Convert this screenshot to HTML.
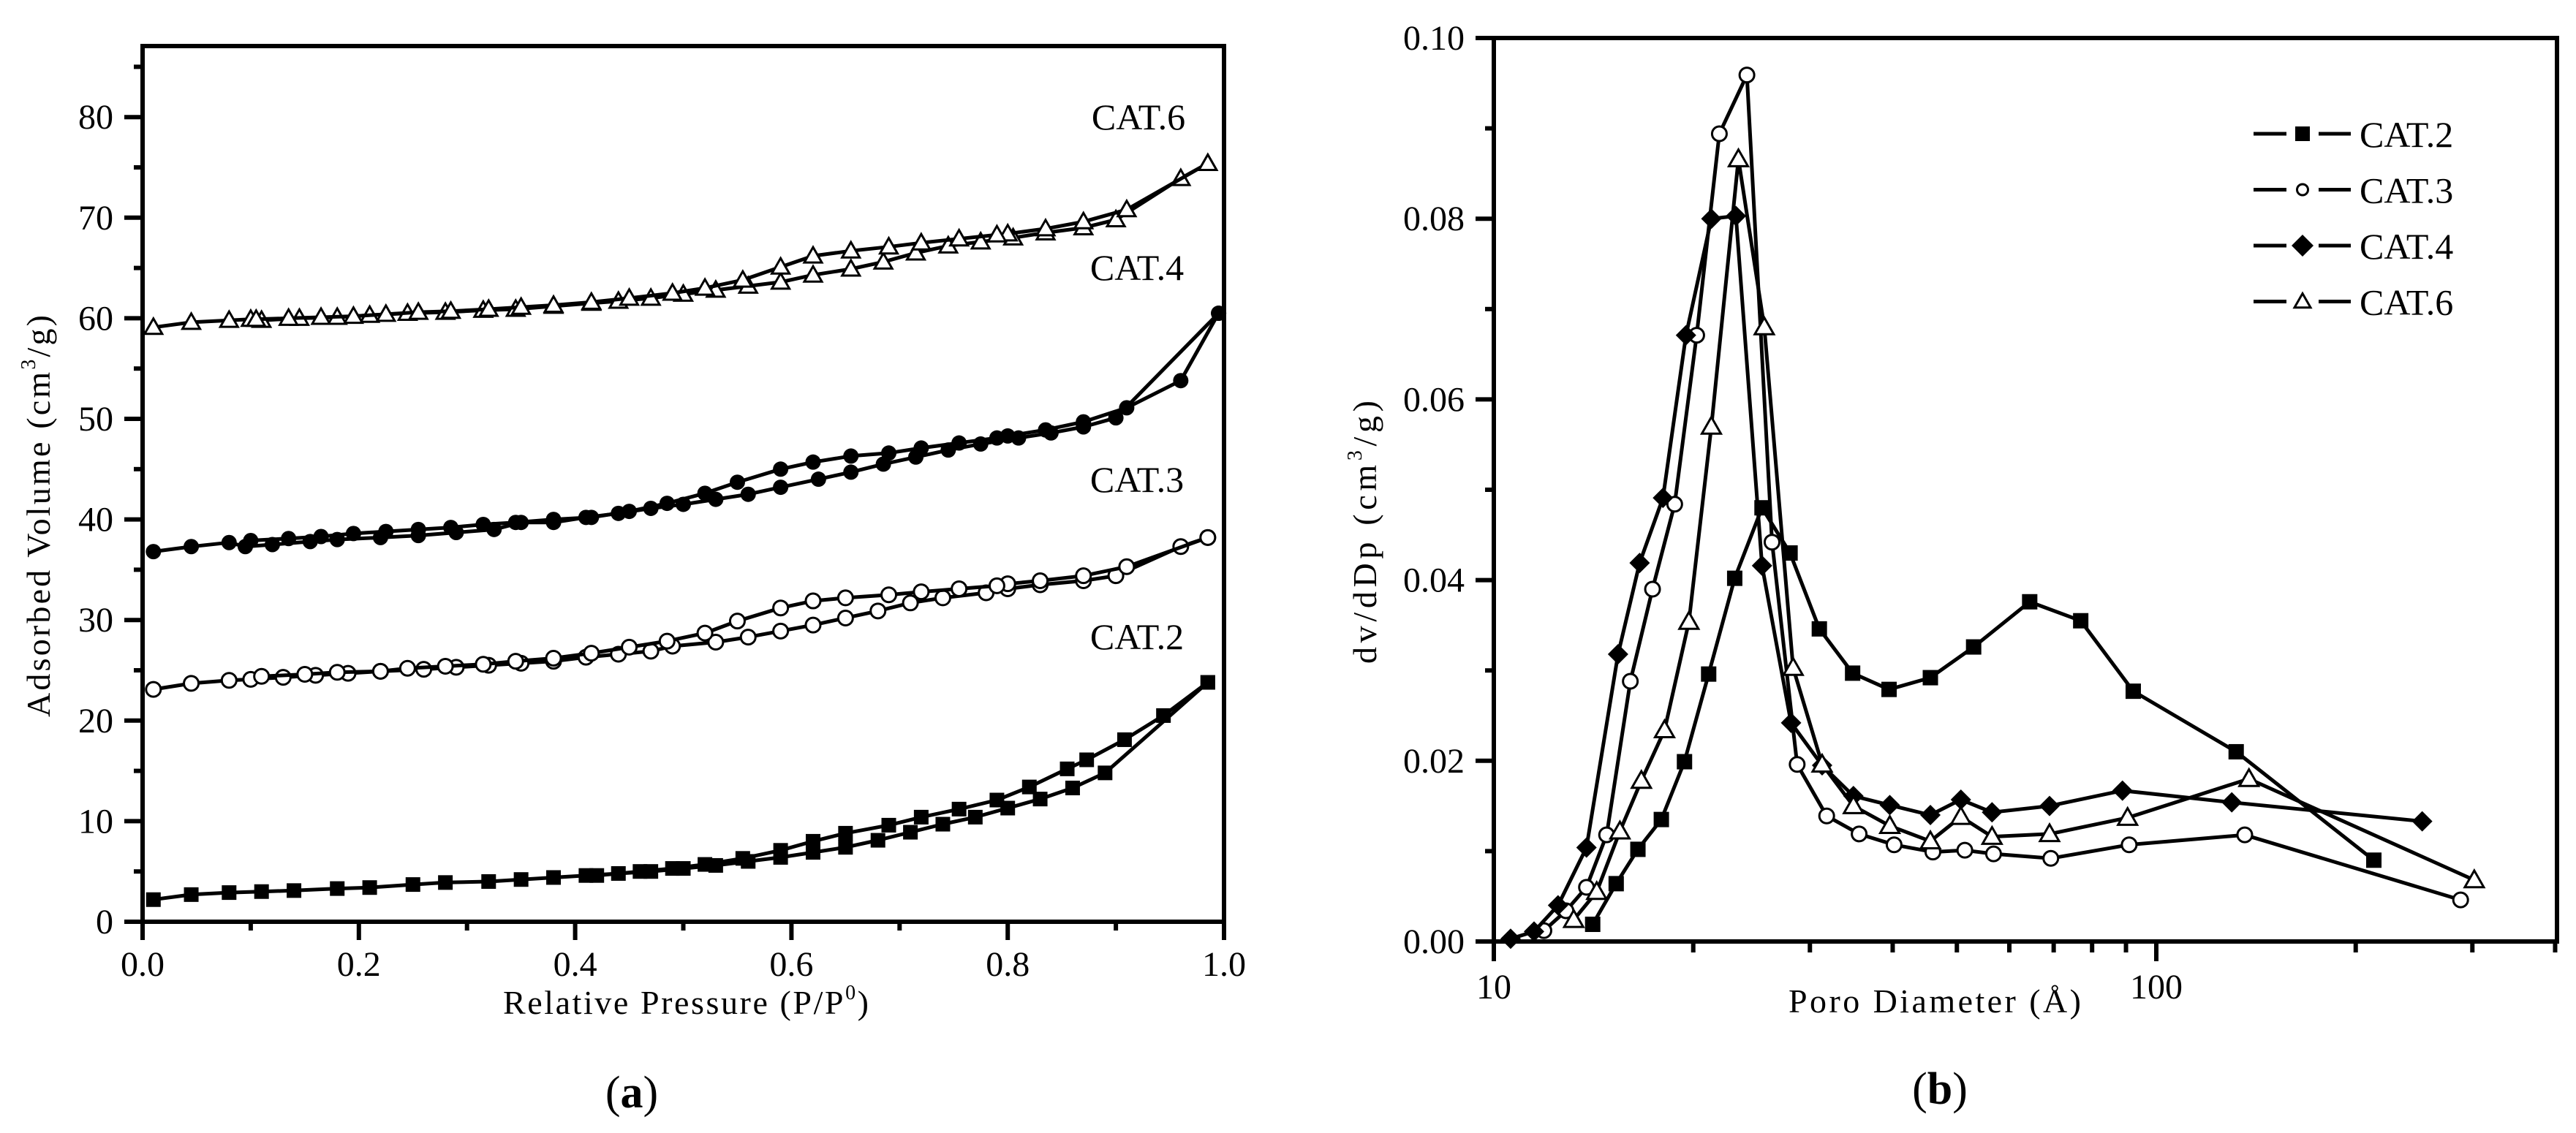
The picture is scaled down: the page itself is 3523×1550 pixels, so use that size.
<!DOCTYPE html>
<html><head><meta charset="utf-8">
<style>
html,body{margin:0;padding:0;background:#fff;}
svg{display:block;font-family:"Liberation Serif",serif;}
</style></head>
<body>
<svg id="fig" width="3523" height="1550" viewBox="0 0 3523 1550" xmlns="http://www.w3.org/2000/svg">
<g id="pa"></g>
<g id="pb"></g>
</svg>
<script>
// ---------- Panel (a) data ----------
const a2AdsX=[0.01,0.045,0.08,0.11,0.14,0.18,0.21,0.25,0.28,0.32,0.35,0.38,0.41,0.44,0.47,0.5,0.53,0.56,0.59,0.62,0.65,0.68,0.71,0.74,0.77,0.80,0.83,0.86,0.89,0.985];
const a2AdsY=[2.2,2.7,2.9,3.0,3.1,3.3,3.4,3.7,3.9,4.0,4.2,4.4,4.6,4.8,5.0,5.3,5.6,6.0,6.4,6.9,7.4,8.1,8.9,9.7,10.4,11.3,12.2,13.3,14.8,23.8];
const a2DesX=[0.985,0.944,0.908,0.873,0.855,0.82,0.79,0.755,0.72,0.69,0.65,0.62,0.59,0.555,0.52,0.49,0.46,0.42];
const a2DesY=[23.8,20.5,18.1,16.1,15.2,13.4,12.1,11.2,10.4,9.6,8.8,8.0,7.1,6.3,5.7,5.3,5.0,4.6];
const a3AdsX=[0.01,0.045,0.08,0.1,0.13,0.16,0.19,0.22,0.26,0.29,0.32,0.35,0.38,0.41,0.44,0.47,0.49,0.53,0.56,0.59,0.62,0.65,0.68,0.71,0.74,0.78,0.80,0.83,0.87,0.90,0.96,0.985];
const a3AdsY=[23.1,23.7,24.0,24.1,24.3,24.5,24.7,24.9,25.1,25.3,25.5,25.7,25.9,26.3,26.6,26.9,27.4,27.8,28.3,28.9,29.5,30.2,30.9,31.7,32.2,32.7,33.1,33.5,33.9,34.4,37.3,38.2];
const a3DesX=[0.985,0.91,0.87,0.83,0.80,0.79,0.755,0.72,0.69,0.65,0.62,0.59,0.55,0.52,0.485,0.45,0.415,0.38,0.345,0.315,0.28,0.245,0.22,0.18,0.15,0.11];
const a3DesY=[38.2,35.3,34.4,33.9,33.6,33.4,33.1,32.8,32.5,32.2,31.9,31.2,29.9,28.7,27.9,27.3,26.7,26.2,25.9,25.6,25.4,25.2,24.9,24.8,24.6,24.4];
const a4AdsX=[0.01,0.045,0.08,0.095,0.12,0.155,0.18,0.22,0.255,0.29,0.325,0.35,0.38,0.41,0.44,0.47,0.5,0.53,0.56,0.59,0.625,0.655,0.685,0.715,0.745,0.775,0.81,0.84,0.87,0.9,0.995];
const a4AdsY=[36.8,37.3,37.7,37.3,37.5,37.8,38.0,38.2,38.4,38.7,39.0,39.7,39.7,40.2,40.6,41.1,41.5,42.0,42.5,43.2,44.0,44.7,45.5,46.2,46.9,47.5,48.1,48.6,49.2,50.1,60.5];
const a4DesX=[0.995,0.96,0.91,0.87,0.835,0.80,0.79,0.755,0.72,0.69,0.655,0.62,0.59,0.55,0.52,0.485,0.45,0.415,0.38,0.345,0.315,0.285,0.255,0.225,0.195,0.165,0.135,0.1];
const a4DesY=[60.5,53.8,51.1,49.7,48.9,48.3,48.1,47.6,47.1,46.6,46.3,45.7,45.0,43.7,42.6,41.6,40.8,40.2,40.0,39.7,39.5,39.2,39.0,38.8,38.6,38.3,38.1,37.9];
const a6AdsX=[0.01,0.045,0.08,0.1,0.11,0.145,0.18,0.21,0.245,0.28,0.315,0.345,0.38,0.415,0.44,0.47,0.5,0.53,0.56,0.59,0.62,0.655,0.685,0.715,0.745,0.775,0.805,0.835,0.87,0.9,0.96,0.985];
const a6AdsY=[59.1,59.6,59.8,59.9,59.8,60.0,60.1,60.3,60.5,60.6,60.8,60.9,61.2,61.5,61.7,62.0,62.4,62.8,63.2,63.6,64.3,64.9,65.6,66.5,67.2,67.6,68.0,68.5,69.0,69.8,73.9,75.4];
const a6DesX=[0.985,0.91,0.87,0.835,0.80,0.79,0.755,0.72,0.69,0.655,0.62,0.59,0.555,0.52,0.49,0.45,0.415,0.38,0.35,0.32,0.285,0.255,0.225,0.195,0.165,0.135,0.105];
const a6DesY=[75.4,70.8,69.6,68.9,68.4,68.3,67.9,67.5,67.1,66.7,66.2,65.1,63.8,63.0,62.5,62.0,61.6,61.3,61.1,60.9,60.7,60.6,60.4,60.2,60.1,60.0,59.9];
const aXTicks=[0,0.2,0.4,0.6,0.8,1.0];
const aXTickLabels=["0.0","0.2","0.4","0.6","0.8","1.0"];
const aYTicks=[0,10,20,30,40,50,60,70,80];
const aYTickLabels=["0","10","20","30","40","50","60","70","80"];

// ---------- Panel (b) data ----------
const b2X=[14.1,15.3,16.5,17.9,19.4,21.1,23.1,25.4,28.0,31.0,34.8,39.5,45.6,53.0,64.4,76.9,92.3,132,213];
const b2Y=[0.0019,0.0064,0.0102,0.0135,0.0199,0.0296,0.0402,0.048,0.043,0.0346,0.0297,0.0279,0.0292,0.0326,0.0376,0.0355,0.0277,0.021,0.0090];
const b3X=[11.9,12.85,13.8,14.8,16.07,17.36,18.75,20.24,21.9,24.1,26.3,28.7,31.8,35.6,40.2,46.0,51.4,56.8,69.3,91.0,136,288];
const b3Y=[0.0012,0.0034,0.006,0.0118,0.0288,0.039,0.0484,0.0671,0.0894,0.0959,0.0442,0.0196,0.0139,0.0119,0.0107,0.0099,0.0101,0.0097,0.0092,0.0107,0.0118,0.0046];
const b4X=[10.6,11.5,12.5,13.8,15.4,16.6,18.0,19.5,21.3,23.2,25.4,28.1,31.3,34.9,39.6,45.6,50.7,56.5,69.0,88.9,130,252];
const b4Y=[0.0003,0.0011,0.004,0.0104,0.0318,0.0419,0.0491,0.0671,0.080,0.0803,0.0416,0.0242,0.0195,0.0161,0.0151,0.014,0.0157,0.0143,0.0150,0.0167,0.0154,0.0133];
const b6X=[13.2,14.3,15.5,16.7,18.1,19.7,21.3,23.4,25.6,28.3,31.3,34.9,39.6,45.6,50.7,56.5,69.0,90.5,138,302];
const b6Y=[0.0024,0.0055,0.0122,0.0178,0.0234,0.0354,0.0570,0.0866,0.0680,0.0303,0.0196,0.0150,0.0128,0.0111,0.0138,0.0116,0.0119,0.0137,0.0180,0.0068];
const bYTicks=[0,0.02,0.04,0.06,0.08,0.10];
const bYTickLabels=["0.00","0.02","0.04","0.06","0.08","0.10"];
const bXMajor=[10,100];
const bXMajorLabels=["10","100"];
const bXMinor=[20,30,40,50,60,70,80,90,200,300,400];
const legendNames=["CAT.2","CAT.3","CAT.4","CAT.6"];

const NS="http://www.w3.org/2000/svg";
function mk(parent,tag,attrs){const e=document.createElementNS(NS,tag);for(const k in attrs)e.setAttribute(k,attrs[k]);parent.appendChild(e);return e;}

// ---- axes functions
const A={x0:195,x1:1674,yb:1261,yt:63};
const ax=v=>A.x0+(A.x1-A.x0)*v;
const ay=v=>A.yb-v*13.76;
const B={x0:2043,x1:3497,yb:1288,yt:52};
const bx=v=>B.x0+(Math.log10(v)-1)*906;
const by=v=>B.yb-v*12360;

function marker(g,type,x,y,s,name){
  let e;
  if(type==='sq'){e=mk(g,'rect',{x:x-s/2,y:y-s/2,width:s,height:s,fill:'#000'});}
  else if(type==='fc'){e=mk(g,'circle',{cx:x,cy:y,r:s/2,fill:'#000'});}
  else if(type==='oc'){e=mk(g,'circle',{cx:x,cy:y,r:s/2,fill:'#fff',stroke:'#000','stroke-width':3});}
  else if(type==='dm'){const h=s/2;e=mk(g,'polygon',{points:`${x},${y-h} ${x+h},${y} ${x},${y+h} ${x-h},${y}`,fill:'#000'});}
  else {const h=s/2;e=mk(g,'polygon',{points:`${x},${y-h} ${x+h},${y+h*0.75} ${x-h},${y+h*0.75}`,fill:'#fff',stroke:'#000','stroke-width':3});}
  
  
}
function series(parent,xs,ys,fx,fy,type,s,name){
  const g=mk(parent,'g',{});
  
  
  const pts=xs.map((v,i)=>fx(v).toFixed(1)+','+fy(ys[i]).toFixed(1)).join(' ');
  const l=mk(g,'polyline',{points:pts,fill:'none',stroke:'#000','stroke-width':5,'stroke-linejoin':'round'});
  
  
  xs.forEach((v,i)=>marker(g,type,fx(v),fy(ys[i]),s,name+'-point'));
}
function text(parent,x,y,str,size,anchor,name,extra){
  const t=mk(parent,'text',Object.assign({x:x,y:y,'font-size':size,'text-anchor':anchor||'middle',fill:'#000'},extra||{}));
  t.textContent=str;
  
  
  return t;
}

// ---------- Panel (a)
const pa=document.getElementById('pa');
series(pa,a2AdsX,a2AdsY,ax,ay,'sq',20,'cat2-adsorption');
series(pa,a2DesX,a2DesY,ax,ay,'sq',20,'cat2-desorption');
series(pa,a3AdsX,a3AdsY,ax,ay,'oc',20,'cat3-adsorption');
series(pa,a3DesX,a3DesY,ax,ay,'oc',20,'cat3-desorption');
series(pa,a4AdsX,a4AdsY,ax,ay,'fc',21,'cat4-adsorption');
series(pa,a4DesX,a4DesY,ax,ay,'fc',21,'cat4-desorption');
series(pa,a6AdsX,a6AdsY,ax,ay,'tr',24,'cat6-adsorption');
series(pa,a6DesX,a6DesY,ax,ay,'tr',24,'cat6-desorption');
const fa=mk(pa,'rect',{x:A.x0,y:A.yt,width:A.x1-A.x0,height:A.yb-A.yt,fill:'none',stroke:'#000','stroke-width':6});


aYTicks.forEach((v,i)=>{
  mk(pa,'line',{x1:A.x0-25,x2:A.x0,y1:ay(v),y2:ay(v),stroke:'#000','stroke-width':6});
  mk(pa,'line',{x1:A.x0-12,x2:A.x0,y1:ay(v+5),y2:ay(v+5),stroke:'#000','stroke-width':6});
  text(pa,155,ay(v)+16,aYTickLabels[i],48,'end','y-tick-label');
});
aXTicks.forEach((v,i)=>{
  mk(pa,'line',{x1:ax(v),x2:ax(v),y1:A.yb,y2:A.yb+25,stroke:'#000','stroke-width':6});
  if(v<1) mk(pa,'line',{x1:ax(v+0.1),x2:ax(v+0.1),y1:A.yb,y2:A.yb+12,stroke:'#000','stroke-width':6});
  text(pa,ax(v),1335,aXTickLabels[i],48,'middle','x-tick-label');
});
let t=text(pa,938,1387,'Relative Pressure (P/P',46,'middle','x-axis-title-a');
t.innerHTML='Relative Pressure (P/P<tspan dy="-20" font-size="28">0</tspan><tspan dy="20">)</tspan>';
t.setAttribute('textLength','500');
t=text(pa,0,0,'',46,'middle','y-axis-title-a',{transform:'translate(68,706) rotate(-90)'});
t.innerHTML='Adsorbed Volume (cm<tspan dy="-20" font-size="28">3</tspan><tspan dy="20">/g)</tspan>';
t.setAttribute('textLength','550');
text(pa,1557,177,'CAT.6',50,'middle','label-cat6');
text(pa,1555,383,'CAT.4',50,'middle','label-cat4');
text(pa,1555,673,'CAT.3',50,'middle','label-cat3');
text(pa,1555,888,'CAT.2',50,'middle','label-cat2');
t=text(pa,864,1515,'(',62,'middle','panel-label-a');
t.innerHTML='(<tspan font-weight="bold">a</tspan>)';

// ---------- Panel (b)
const pb=document.getElementById('pb');
series(pb,b2X,b2Y,bx,by,'sq',21,'cat2-psd');
series(pb,b3X,b3Y,bx,by,'oc',20,'cat3-psd');
series(pb,b4X,b4Y,bx,by,'dm',28,'cat4-psd');
series(pb,b6X,b6Y,bx,by,'tr',26,'cat6-psd');
const fb=mk(pb,'rect',{x:B.x0,y:B.yt,width:B.x1-B.x0,height:B.yb-B.yt,fill:'none',stroke:'#000','stroke-width':6});


bYTicks.forEach((v,i)=>{
  mk(pb,'line',{x1:B.x0-25,x2:B.x0,y1:by(v),y2:by(v),stroke:'#000','stroke-width':6});
  if(v<0.1) mk(pb,'line',{x1:B.x0-12,x2:B.x0,y1:by(v+0.01),y2:by(v+0.01),stroke:'#000','stroke-width':6});
  text(pb,2003,by(v)+16,bYTickLabels[i],48,'end','y-tick-label');
});
bXMajor.forEach((v,i)=>{
  mk(pb,'line',{x1:bx(v),x2:bx(v),y1:B.yb,y2:B.yb+27,stroke:'#000','stroke-width':6});
  text(pb,bx(v),1366,bXMajorLabels[i],48,'middle','x-tick-label');
});
bXMinor.forEach(v=>{
  mk(pb,'line',{x1:bx(v),x2:bx(v),y1:B.yb,y2:B.yb+15,stroke:'#000','stroke-width':6});
});
t=text(pb,2646,1385,'Poro Diameter (Å)',46,'middle','x-axis-title-b');
t.setAttribute('textLength','400');
t=text(pb,0,0,'',46,'middle','y-axis-title-b',{transform:'translate(1882,728) rotate(-90)'});
t.innerHTML='dv/dDp (cm<tspan dy="-20" font-size="28">3</tspan><tspan dy="20">/g)</tspan>';
t.setAttribute('textLength','360');
const lg=mk(pb,'g',{});


const ltypes=['sq','oc','dm','tr'], lsz=[20,15,30,22];
legendNames.forEach((n,i)=>{
  const y=183+i*76.5;
  const e=mk(lg,'g',{});
  
  
  mk(e,'line',{x1:3082,x2:3127,y1:y,y2:y,stroke:'#000','stroke-width':5});
  mk(e,'line',{x1:3171,x2:3215,y1:y,y2:y,stroke:'#000','stroke-width':5});
  marker(e,ltypes[i],3149,y,lsz[i],'legend-marker');
  text(e,3227,y+18,n,50,'start','legend-label');
});
t=text(pb,2653,1510,'(',62,'middle','panel-label-b');
t.innerHTML='(<tspan font-weight="bold">b</tspan>)';
</script>
</body></html>
